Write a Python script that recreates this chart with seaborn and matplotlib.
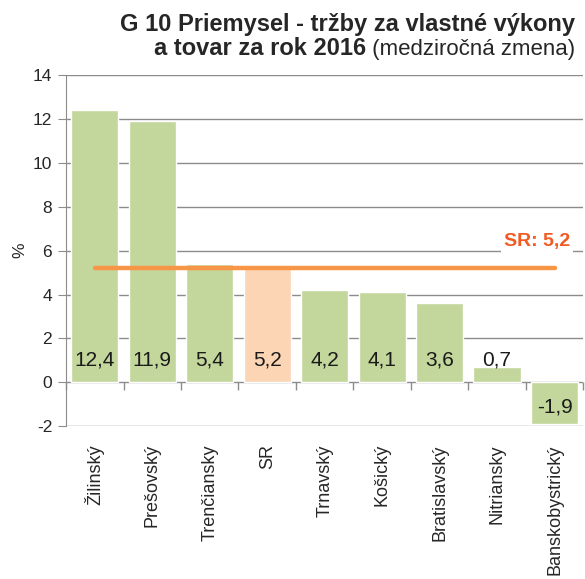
import matplotlib
matplotlib.use('Agg')
import matplotlib.pyplot as plt
import seaborn as sns
import pandas as pd
import numpy as np

# data
kraje = ['Žilinský', 'Prešovský', 'Trenčiansky', 'SR', 'Trnavský', 'Košický',
         'Bratislavský', 'Nitriansky', 'Banskobystrický']
zmena = [12.4, 11.9, 5.4, 5.2, 4.2, 4.1, 3.6, 0.7, -1.9]
popisky = ['12,4', '11,9', '5,4', '5,2', '4,2', '4,1', '3,6', '0,7', '-1,9']
sr_hodnota = 5.2
sr_popis = 'SR: 5,2'

farby = {k: ('#FCD5B5' if k == 'SR' else '#C3D69B') for k in kraje}
df = pd.DataFrame({'kraj': kraje, 'zmena': zmena})

sns.set_style('white')
plt.rcParams['font.family'] = ['Liberation Sans', 'DejaVu Sans']
plt.rcParams['axes.unicode_minus'] = False
seda = '#8C8C8C'

fig = plt.figure(figsize=(5.85, 5.79), dpi=100)
ax = fig.add_axes([0.113, 0.264, 0.884, 0.606])

sns.barplot(data=df, x='kraj', y='zmena', hue='kraj', palette=farby, legend=False,
            width=0.82, saturation=1, ax=ax, zorder=2)

ax.set_ylim(-2, 14)
ax.set_xlim(-0.5, len(kraje) - 0.5)
ax.set_yticks(range(-2, 15, 2))
ax.grid(axis='y', color=seda, lw=1)
ax.set_axisbelow(True)
for s in ['top', 'right', 'bottom']:
    ax.spines[s].set_visible(False)
ax.spines['left'].set_color(seda)
ax.tick_params(axis='y', left=True, length=6, color=seda, labelsize=12.5, pad=4)
ax.tick_params(axis='x', length=0, pad=13, labelsize=13, labelrotation=90)
ax.set_xlabel('')
ax.set_ylabel('%', fontsize=12.5, labelpad=4)

# ciarky na osi x (nula) medzi kategoriami
hranice = np.arange(len(kraje) + 1) - 0.5
ax.plot(hranice, np.zeros(len(hranice)), ls='none', marker=3, markersize=6,
        markeredgewidth=1, color=seda, clip_on=False, zorder=1.5)

# popisky hodnot
for i, (v, t) in enumerate(zip(zmena, popisky)):
    ax.annotate(t, (i, 0), xytext=(0, 16 if v > 0 else -18), textcoords='offset points',
                ha='center', va='center', fontsize=15, color='#1a1a1a', zorder=4)

# ciara SR
ax.plot([0, len(kraje) - 1], [sr_hodnota, sr_hodnota], color='#F79646', lw=3.2,
        solid_capstyle='round', zorder=5)
ax.text(7.7, 6.4, sr_popis, color='#F15A22', fontsize=14, fontweight='bold',
        ha='center', va='center', zorder=6,
        bbox=dict(facecolor='white', edgecolor='none', pad=2))

# nadpis
fig.text(0.983, 0.9465, 'G 10 Priemysel - tržby za vlastné výkony', ha='right',
         va='baseline', fontsize=17, fontweight='bold')
t2 = fig.text(0.983, 0.905, ' (medziročná zmena)', ha='right', va='baseline', fontsize=16)
r = fig.canvas.get_renderer()
x0 = t2.get_window_extent(r).x0 / fig.bbox.width
fig.text(x0, 0.905, 'a tovar za rok 2016', ha='right', va='baseline',
         fontsize=17, fontweight='bold')

fig.savefig('out.png', dpi=100)
